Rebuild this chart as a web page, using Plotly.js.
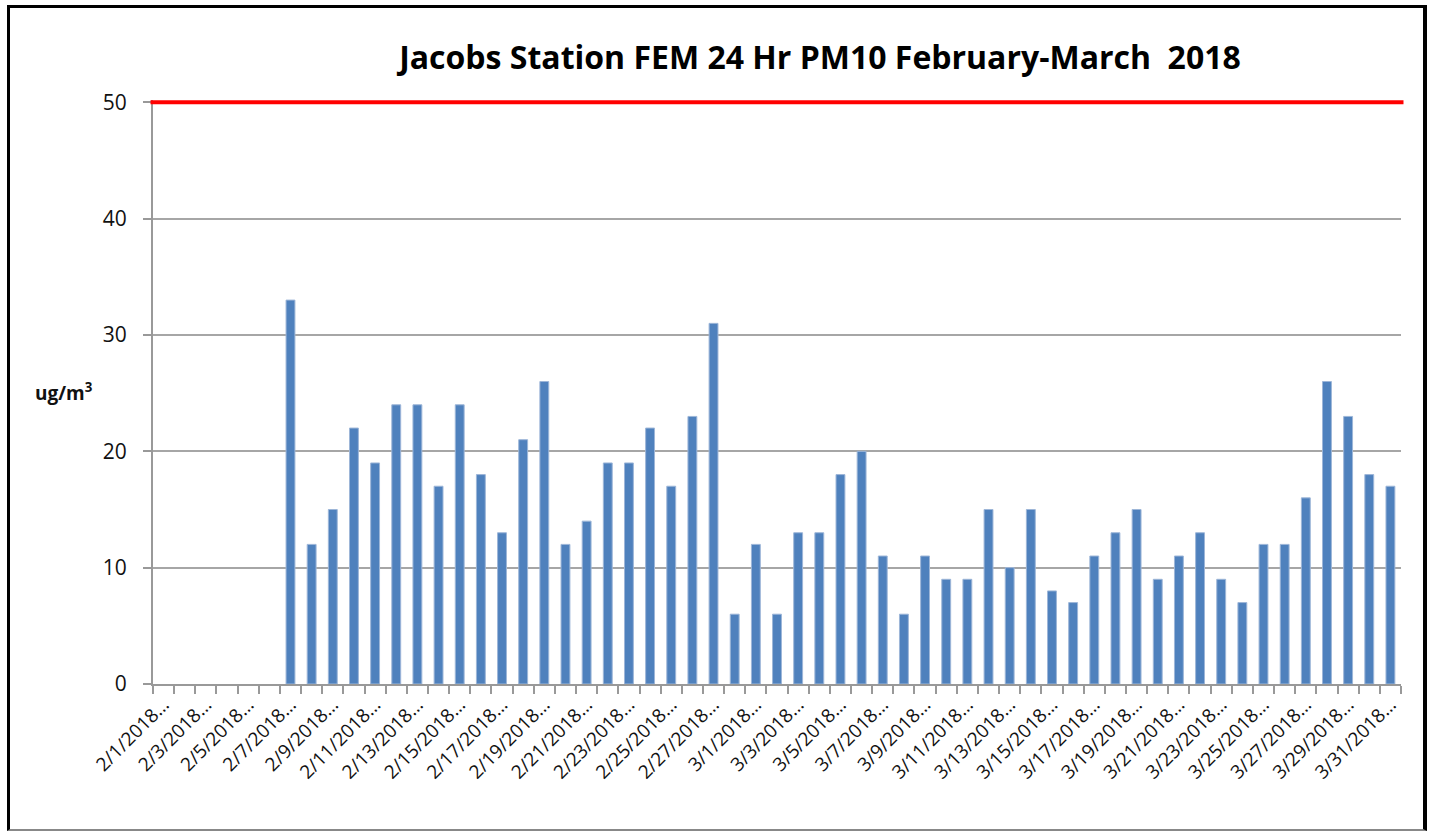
<!DOCTYPE html>
<html>
<head>
<meta charset="utf-8">
<script src="https://cdn.plot.ly/plotly-3.0.1.min.js"></script>
<style>
  html, body { margin: 0; padding: 0; background: #fff; }
  #chart { position: absolute; left: 0; top: 0; width: 1431px; height: 831px; }
  #frame { position: absolute; left: 7px; top: 5px; width: 1413px; height: 821px;
           border-left: 3px solid #000; border-top: 3px solid #000; border-right: 4px solid #000;
           border-bottom: 2px solid #888; pointer-events: none; }
</style>
</head>
<body>
<div id="chart"></div>
<div id="frame"></div>
<script>
const dates = [
  "2/1/2018","2/2/2018","2/3/2018","2/4/2018","2/5/2018","2/6/2018","2/7/2018","2/8/2018",
  "2/9/2018","2/10/2018","2/11/2018","2/12/2018","2/13/2018","2/14/2018","2/15/2018","2/16/2018",
  "2/17/2018","2/18/2018","2/19/2018","2/20/2018","2/21/2018","2/22/2018","2/23/2018","2/24/2018",
  "2/25/2018","2/26/2018","2/27/2018","2/28/2018",
  "3/1/2018","3/2/2018","3/3/2018","3/4/2018","3/5/2018","3/6/2018","3/7/2018","3/8/2018",
  "3/9/2018","3/10/2018","3/11/2018","3/12/2018","3/13/2018","3/14/2018","3/15/2018","3/16/2018",
  "3/17/2018","3/18/2018","3/19/2018","3/20/2018","3/21/2018","3/22/2018","3/23/2018","3/24/2018",
  "3/25/2018","3/26/2018","3/27/2018","3/28/2018","3/29/2018","3/30/2018","3/31/2018"
];
const pm10 = [
  null,null,null,null,null,null,33,12,
  15,22,19,24,24,17,24,18,
  13,21,26,12,14,19,19,22,
  17,23,31,6,
  12,6,13,13,18,20,11,6,
  11,9,9,15,10,15,8,7,
  11,13,15,9,11,13,9,7,
  12,12,16,26,23,18,17
];
const tickDates = [
  "2/1/2018","2/3/2018","2/5/2018","2/7/2018","2/9/2018","2/11/2018","2/13/2018","2/15/2018",
  "2/17/2018","2/19/2018","2/21/2018","2/23/2018","2/25/2018","2/27/2018",
  "3/1/2018","3/3/2018","3/5/2018","3/7/2018","3/9/2018","3/11/2018","3/13/2018","3/15/2018",
  "3/17/2018","3/19/2018","3/21/2018","3/23/2018","3/25/2018","3/27/2018","3/29/2018","3/31/2018"
];
const standard = 50;
const yTicks = [0, 10, 20, 30, 40, 50];
const titleText = "Jacobs Station FEM 24 Hr PM10 February-March  2018";
const yUnit = "ug/m<sup>3</sup>";

const xIdx = dates.map((d, i) => i);
const tickIdx = tickDates.map(d => dates.indexOf(d));
const tickText = tickDates.map(d => d + "…");

const font = "Open Sans, DejaVu Sans, sans-serif";

const trace = {
  type: "bar",
  x: xIdx,
  y: pm10,
  marker: { color: "#4F81BD", line: { color: "#9DB6D8", width: 1 } },
  hoverinfo: "y",
  showlegend: false
};

const layout = {
  width: 1431, height: 831,
  margin: { l: 153, r: 30, t: 100, b: 147, pad: 0 },
  paper_bgcolor: "#fff", plot_bgcolor: "#fff",
  bargap: 0.58,
  showlegend: false,
  title: {
    text: "<b>" + titleText.replace(/  /g, " &nbsp;") + "</b>",
    font: { family: font, size: 32, color: "#000" },
    x: 0.573, xanchor: "center", xref: "container",
    y: 0.931, yanchor: "middle", yref: "container"
  },
  xaxis: {
    type: "linear",
    range: [-0.5, dates.length - 0.5],
    tickmode: "array", tickvals: tickIdx, ticktext: tickText,
    tickangle: -45,
    ticks: "",
    showgrid: false, zeroline: false,
    showline: true, linecolor: "#999", linewidth: 2,
    tickfont: { family: font, size: 19, color: "#111" },
    minor: { tickmode: "linear", tick0: -0.5, dtick: 1, ticks: "outside", ticklen: 8, tickcolor: "#999", tickwidth: 2, showgrid: false },
    fixedrange: true
  },
  yaxis: {
    range: [0, 50.2],
    tickmode: "array", tickvals: yTicks,
    ticks: "outside", ticklen: 8, tickcolor: "#999", tickwidth: 2,
    ticklabelstandoff: 12,
    showgrid: true, gridcolor: "#a6a6a6", gridwidth: 2,
    zeroline: false,
    showline: true, linecolor: "#999", linewidth: 2,
    tickfont: { family: font, size: 21, color: "#111" },
    fixedrange: true
  },
  shapes: [{
    type: "line", xref: "paper", yref: "y",
    x0: -0.002, x1: 1.002, y0: standard, y1: standard,
    line: { color: "#FF0000", width: 4 }
  }],
  annotations: [{
    text: "<b>" + yUnit + "</b>",
    xref: "paper", yref: "paper",
    x: -0.071, y: 0.5, xanchor: "center", yanchor: "middle",
    showarrow: false,
    font: { family: font, size: 19, color: "#111" }
  }]
};

Plotly.newPlot("chart", [trace], layout, { displayModeBar: false, staticPlot: true });
</script>
</body>
</html>
